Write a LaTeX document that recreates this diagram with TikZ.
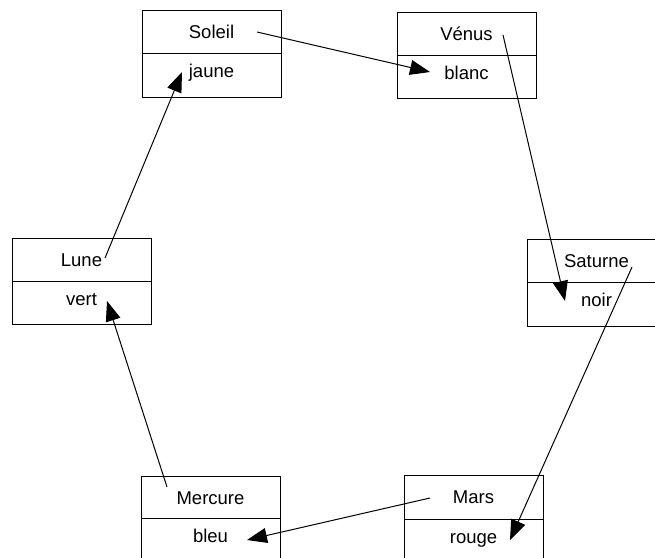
\documentclass[tikz,border=0pt]{standalone}
\usepackage{fontspec}
\setmainfont{Liberation Sans}
\usetikzlibrary{arrows.meta}
\tikzset{
  comp/.style={draw=black, line width=1.2pt, minimum width=139pt, inner sep=0pt, anchor=north west},
  lbl/.style={anchor=base, inner sep=0pt, font=\fontsize{18.5}{22}\selectfont},
  link/.style={draw=black, line width=1pt, -{Triangle[length=20pt,width=15pt]}}
}
\newcommand{\umlclass}[7]{%
  % #1 id, #2 x, #3 top, #4 divider, #5 bottom, #6 title, #7 value
  \node[comp, minimum height=#4-#3] (#1top) at (#2,#3) {};
  \node[comp, minimum height=#5-#4] (#1bot) at (#2,#4) {};
  \node[lbl] (#1name) at (#2+69.5,#3+28) {#6};
  \node[lbl] (#1val) at (#2+69.5,#4+24) {#7};
}
\begin{document}
\begin{tikzpicture}[x=1pt,y=-1pt]
\useasboundingbox (0,0) rectangle (655,557);
\begin{scope}
\clip (0,0) rectangle (655,557);
\umlclass{sol}{142}{10}{53}{97}{Soleil}{jaune}
\umlclass{ven}{397}{12}{55}{98}{Vénus}{blanc}
\umlclass{lun}{12}{238}{281}{324}{Lune}{vert}
\umlclass{sat}{527}{239}{282}{326}{Saturne}{noir}
\umlclass{mer}{141}{476}{518}{561}{Mercure}{bleu}
\umlclass{mar}{404}{475}{519}{563}{Mars}{rouge}
\end{scope}
\coordinate (s1) at (257,32);  \coordinate (t1) at (430,72);
\coordinate (s2) at (503,35);  \coordinate (t2) at (565,301);
\coordinate (s3) at (632,267); \coordinate (t3) at (510,540);
\coordinate (s4) at (430,498); \coordinate (t4) at (247,540);
\coordinate (s5) at (167,487); \coordinate (t5) at (107,301);
\coordinate (s6) at (105,258); \coordinate (t6) at (182,72);
\draw[link] (s1) -- (t1);
\draw[link] (s2) -- (t2);
\draw[link] (s3) -- (t3);
\draw[link] (s4) -- (t4);
\draw[link] (s5) -- (t5);
\draw[link] (s6) -- (t6);
\end{tikzpicture}
\end{document}
